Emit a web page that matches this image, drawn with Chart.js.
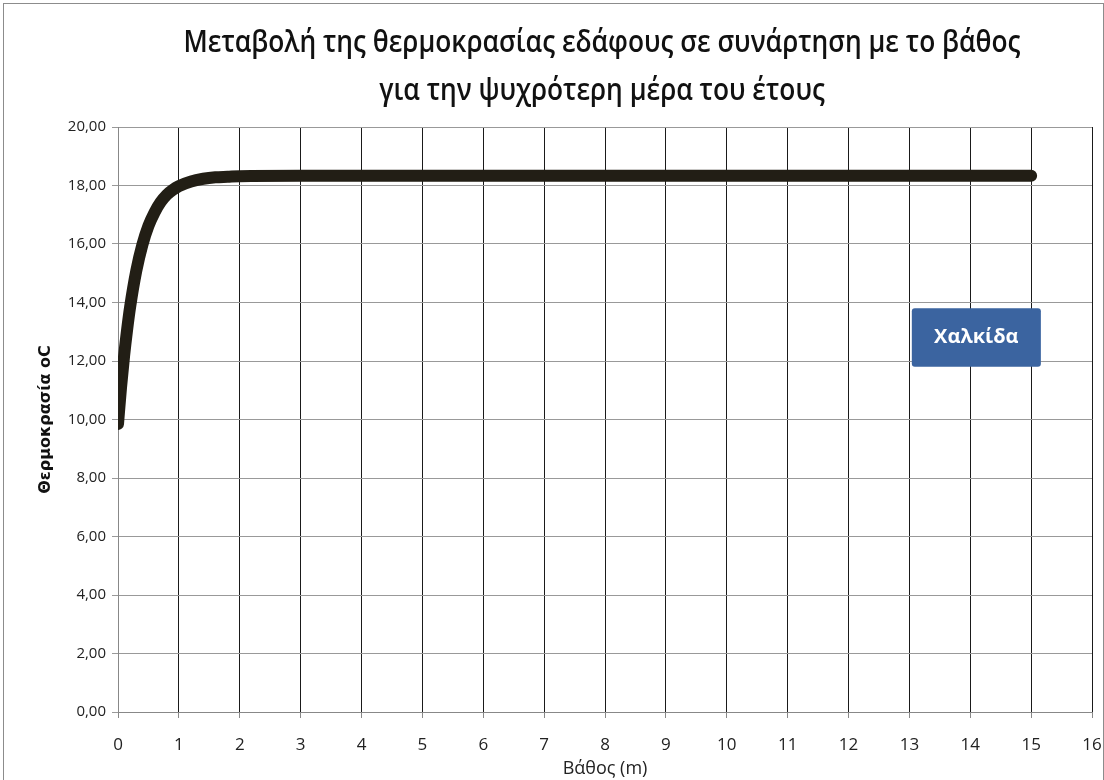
<!DOCTYPE html>
<html>
<head>
<meta charset="utf-8">
<script src="https://cdn.jsdelivr.net/npm/chart.js@4"></script>
<style>
  html, body { margin: 0; padding: 0; background: #fff; }
  #wrap { width: 1104px; height: 780px; }
</style>
</head>
<body>
<div id="wrap"><canvas id="line-chart" width="1104" height="780"></canvas></div>
<script>
// depth (m) and soil temperature (oC)
var depth = [0, 0.05, 0.1, 0.15, 0.2, 0.3, 0.4, 0.5, 0.6, 0.7, 0.8, 0.9, 1.0,
             1.2, 1.4, 1.6, 1.8, 2, 3, 4, 5, 6, 7, 8, 9, 10, 11, 12, 13, 14, 15];
var temp = [9.85, 11.10, 12.17, 13.08, 13.86, 15.08, 15.97, 16.62, 17.08, 17.43, 17.68, 17.85, 17.98,
            18.14, 18.23, 18.28, 18.30, 18.32, 18.33, 18.33, 18.33, 18.33, 18.33, 18.33, 18.33, 18.33, 18.33, 18.33, 18.33, 18.33, 18.33];
var yTicks = [0, 2, 4, 6, 8, 10, 12, 14, 16, 18, 20];
var xTicks = [0, 1, 2, 3, 4, 5, 6, 7, 8, 9, 10, 11, 12, 13, 14, 15, 16];
var titleLines = ['Μεταβολή της θερμοκρασίας εδάφους σε συνάρτηση με το βάθος',
                  'για την ψυχρότερη μέρα του έτους'];
var stationLabel = "Χαλκίδα";

var font = "'Open Sans', sans-serif";

var points = depth.map(function(d, i) { return { x: d, y: temp[i] }; });

// white background + thin frame like the spreadsheet chart area
var frame = {
  id: 'frame',
  beforeDraw: function(chart) {
    var c = chart.ctx;
    c.save();
    c.fillStyle = '#fff';
    c.fillRect(0, 0, chart.width, chart.height);
    c.strokeStyle = '#8c8c8c';
    c.lineWidth = 1;
    c.strokeRect(3.5, 3.5, chart.width - 4, chart.height);
    c.restore();
  }
};

// two-line title, squeezed sideways to look like the narrow office font
var narrowTitle = {
  id: 'narrowTitle',
  afterDraw: function(chart) {
    var c = chart.ctx;
    var a = chart.chartArea;
    var cx = (a.left + a.right) / 2 - 3;
    c.save();
    c.font = "600 31px " + font;
    var sx = 837 / c.measureText(titleLines[0]).width;
    c.fillStyle = '#111';
    c.textAlign = 'center';
    c.textBaseline = 'middle';
    titleLines.forEach(function(t, i) {
      c.save();
      c.translate(cx, 43 + i * 48);
      c.scale(sx, 1);
      c.fillText(t, 0, 0);
      c.restore();
    });
    c.restore();
  }
};

// blue label box, placed in data units
var stationBox = {
  id: 'stationBox',
  afterDatasetsDraw: function(chart) {
    var c = chart.ctx;
    var xs = chart.scales.x, ys = chart.scales.y;
    var x1 = xs.getPixelForValue(13.04), x2 = xs.getPixelForValue(15.16);
    var y1 = ys.getPixelForValue(13.8), y2 = ys.getPixelForValue(11.8);
    c.save();
    c.fillStyle = '#3b64a0';
    c.beginPath();
    c.roundRect(x1, y1, x2 - x1, y2 - y1, 3);
    c.fill();
    c.fillStyle = '#fff';
    c.font = "bold 20px " + font;
    c.textAlign = 'center';
    c.textBaseline = 'middle';
    c.fillText(stationLabel, (x1 + x2) / 2, (y1 + y2) / 2);
    c.restore();
  }
};

new Chart(document.getElementById("line-chart"), {
  type: 'line',
  data: {
    datasets: [{
      label: stationLabel,
      data: points,
      borderColor: '#221e15',
      borderWidth: 12,
      borderCapStyle: 'round',
      borderJoinStyle: 'round',
      cubicInterpolationMode: 'monotone',
      pointRadius: 0,
      fill: false
    }]
  },
  options: {
    responsive: false,
    animation: false,
    layout: { padding: { left: 0, right: 12, top: 127, bottom: 0 } },
    plugins: {
      legend: { display: false },
      tooltip: { enabled: false },
      title: { display: false }
    },
    scales: {
      x: {
        type: 'linear',
        min: 0, max: 16,
        afterBuildTicks: function(s) { s.ticks = xTicks.map(function(v) { return { value: v }; }); },
        afterFit: function(s) { s.height = 68; s.paddingRight = 0; },
        ticks: { color: '#222', font: { family: font, size: 17 }, padding: 17, maxRotation: 0 },
        grid: { color: '#1a1a1a', lineWidth: 1, tickLength: 6, tickColor: '#888' },
        border: { color: '#888' },
        title: { display: true, text: 'Βάθος (m)', color: '#222',
                 font: { family: font, size: 18 }, padding: { top: -12, bottom: 0 } }
      },
      y: {
        min: 0, max: 20,
        afterBuildTicks: function(s) { s.ticks = yTicks.map(function(v) { return { value: v }; }); },
        afterFit: function(s) { s.width = 118; },
        ticks: {
          color: '#222', font: { family: font, size: 15 }, padding: 6,
          callback: function(v) { return v.toFixed(2).replace('.', ','); }
        },
        grid: { color: '#999', lineWidth: 1, tickLength: 6 },
        border: { color: '#888' },
        title: { display: true, text: 'Θερμοκρασία oC', color: '#111',
                 font: { family: "'DejaVu Sans', sans-serif", size: 16, weight: 'bold' }, padding: { top: 36, bottom: 0 } }
      }
    }
  },
  plugins: [frame, narrowTitle, stationBox]
});
</script>
</body>
</html>
